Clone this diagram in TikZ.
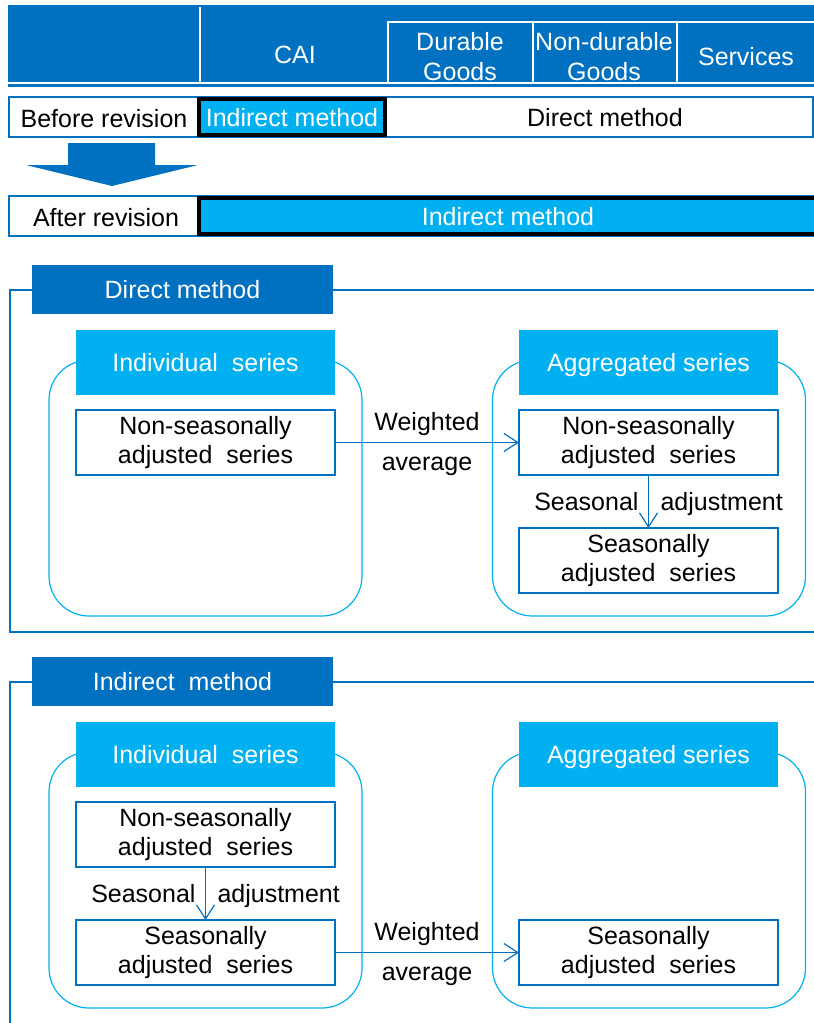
\documentclass[tikz,border=0pt]{standalone}
\usepackage{fontspec}
\setmainfont{Liberation Sans}
\usetikzlibrary{arrows.meta}
\definecolor{darkblue}{HTML}{0070C0}
\definecolor{lightblue}{HTML}{00B0F0}

\begin{document}
\begin{tikzpicture}[x=0.5pt,y=-0.5pt,>={Straight Barb[length=7pt,width=9pt]},
  every node/.style={font=\fontsize{12.5}{15}\selectfont, inner sep=0pt, outer sep=0pt, align=center},
  cell/.style={text=white},
  lbl/.style={text height=9pt, text depth=0pt},
  rowbox/.style={draw=darkblue, line width=0.9pt, minimum height=20pt, minimum width=402pt, anchor=west},
  methodbox/.style={draw=black, line width=2pt, fill=lightblue, text=white, minimum height=18pt, anchor=west},
  tab/.style={fill=darkblue, text=white, minimum width=150.5pt, minimum height=24.5pt, lbl},
  seriesbox/.style={fill=lightblue, text=white, minimum width=129.5pt, minimum height=32.5pt, lbl},
  group/.style={draw=lightblue, line width=0.6pt, rounded corners=20pt, minimum width=156.5pt, minimum height=128pt},
  databox/.style={draw=darkblue, line width=0.8pt, fill=white, minimum width=129.5pt, minimum height=32.5pt,
    font=\fontsize{12.5}{14.5}\selectfont},
  flow/.style={->, draw=darkblue, line width=0.6pt}]
  \useasboundingbox (0,0) rectangle (814,1023);

  % header of the table
  \fill[darkblue] (8,5) rectangle (814,87);
  \draw[white, line width=0.8pt] (8,83) -- (814,83);
  \draw[white, line width=0.8pt] (200,7) -- (200,83);
  \draw[white, line width=0.8pt] (388,83) -- (388,22) -- (814,22);
  \draw[white, line width=0.8pt] (533,22) -- (533,83);
  \draw[white, line width=0.8pt] (677,22) -- (677,83);
  \node[cell] (cai) at (295,55) {CAI};
  \node[cell] (durable) at (460,57) {Durable\\Goods};
  \node[cell] (nondurable) at (604,57) {Non-durable\\Goods};
  \node[cell] (services) at (746,57) {Services};

  % before / after revision
  \node[rowbox] (beforerow) at (9,117) {};
  \node[lbl] (before) at (104,118) {Before revision};
  \node[methodbox, lbl, minimum width=93pt] (beforeind) at (199,117) {Indirect method};
  \node[lbl] (beforedir) at (605,117) {Direct method};
  \fill[darkblue] (68,143) -- (155,143) -- (155,165) -- (198,165) -- (112,186)
    -- (26,165) -- (68,165) -- cycle;
  \node[rowbox] (afterrow) at (9,216) {};
  \node[lbl] (after) at (106,217) {After revision};
  \node[methodbox, lbl, minimum width=309pt] (afterind) at (199,216) {Indirect method};

  % direct method
  \draw[darkblue, line width=0.7pt] (814,290) -- (10,290) -- (10,632) -- (814,632);
  \node[tab] (directtab) at (182.5,289.5) {Direct method};
  \node[group] (dleft) at (205.5,488) {};
  \node[group] (dright) at (649,488) {};
  \node[seriesbox] (dindiv) at (205.5,362.5) {Individual\ \ series};
  \node[seriesbox] (daggr) at (648.5,362.5) {Aggregated series};
  \node[databox] (dnsa) at (205.5,442.5) {Non-seasonally\\adjusted\ \ series};
  \node[databox] (dnsaggr) at (648.5,442.5) {Non-seasonally\\adjusted\ \ series};
  \node[databox] (dsaggr) at (648.5,560.5) {Seasonally\\adjusted\ \ series};
  \draw[flow] (dnsa) -- node[lbl, above=6pt]{Weighted} node[lbl, below=5pt]{average} (dnsaggr);
  \draw[flow] (dnsaggr) -- node[lbl, left=5pt]{Seasonal} node[lbl, right=6pt]{adjustment} (dsaggr);

  % indirect method
  \draw[darkblue, line width=0.7pt] (814,682) -- (10,682) -- (10,1023);
  \node[tab] (indirecttab) at (182.5,681.5) {Indirect\ \ method};
  \node[group] (ileft) at (205.5,880) {};
  \node[group] (iright) at (649,880) {};
  \node[seriesbox] (iindiv) at (205.5,754.5) {Individual\ \ series};
  \node[seriesbox] (iaggr) at (648.5,754.5) {Aggregated series};
  \node[databox] (insa) at (205.5,834.5) {Non-seasonally\\adjusted\ \ series};
  \node[databox] (isa) at (205.5,952.5) {Seasonally\\adjusted\ \ series};
  \node[databox] (isaggr) at (648.5,952.5) {Seasonally\\adjusted\ \ series};
  \draw[flow] (insa) -- node[lbl, left=5pt]{Seasonal} node[lbl, right=6pt]{adjustment} (isa);
  \draw[flow] (isa) -- node[lbl, above=6pt]{Weighted} node[lbl, below=5pt]{average} (isaggr);
\end{tikzpicture}
\end{document}
